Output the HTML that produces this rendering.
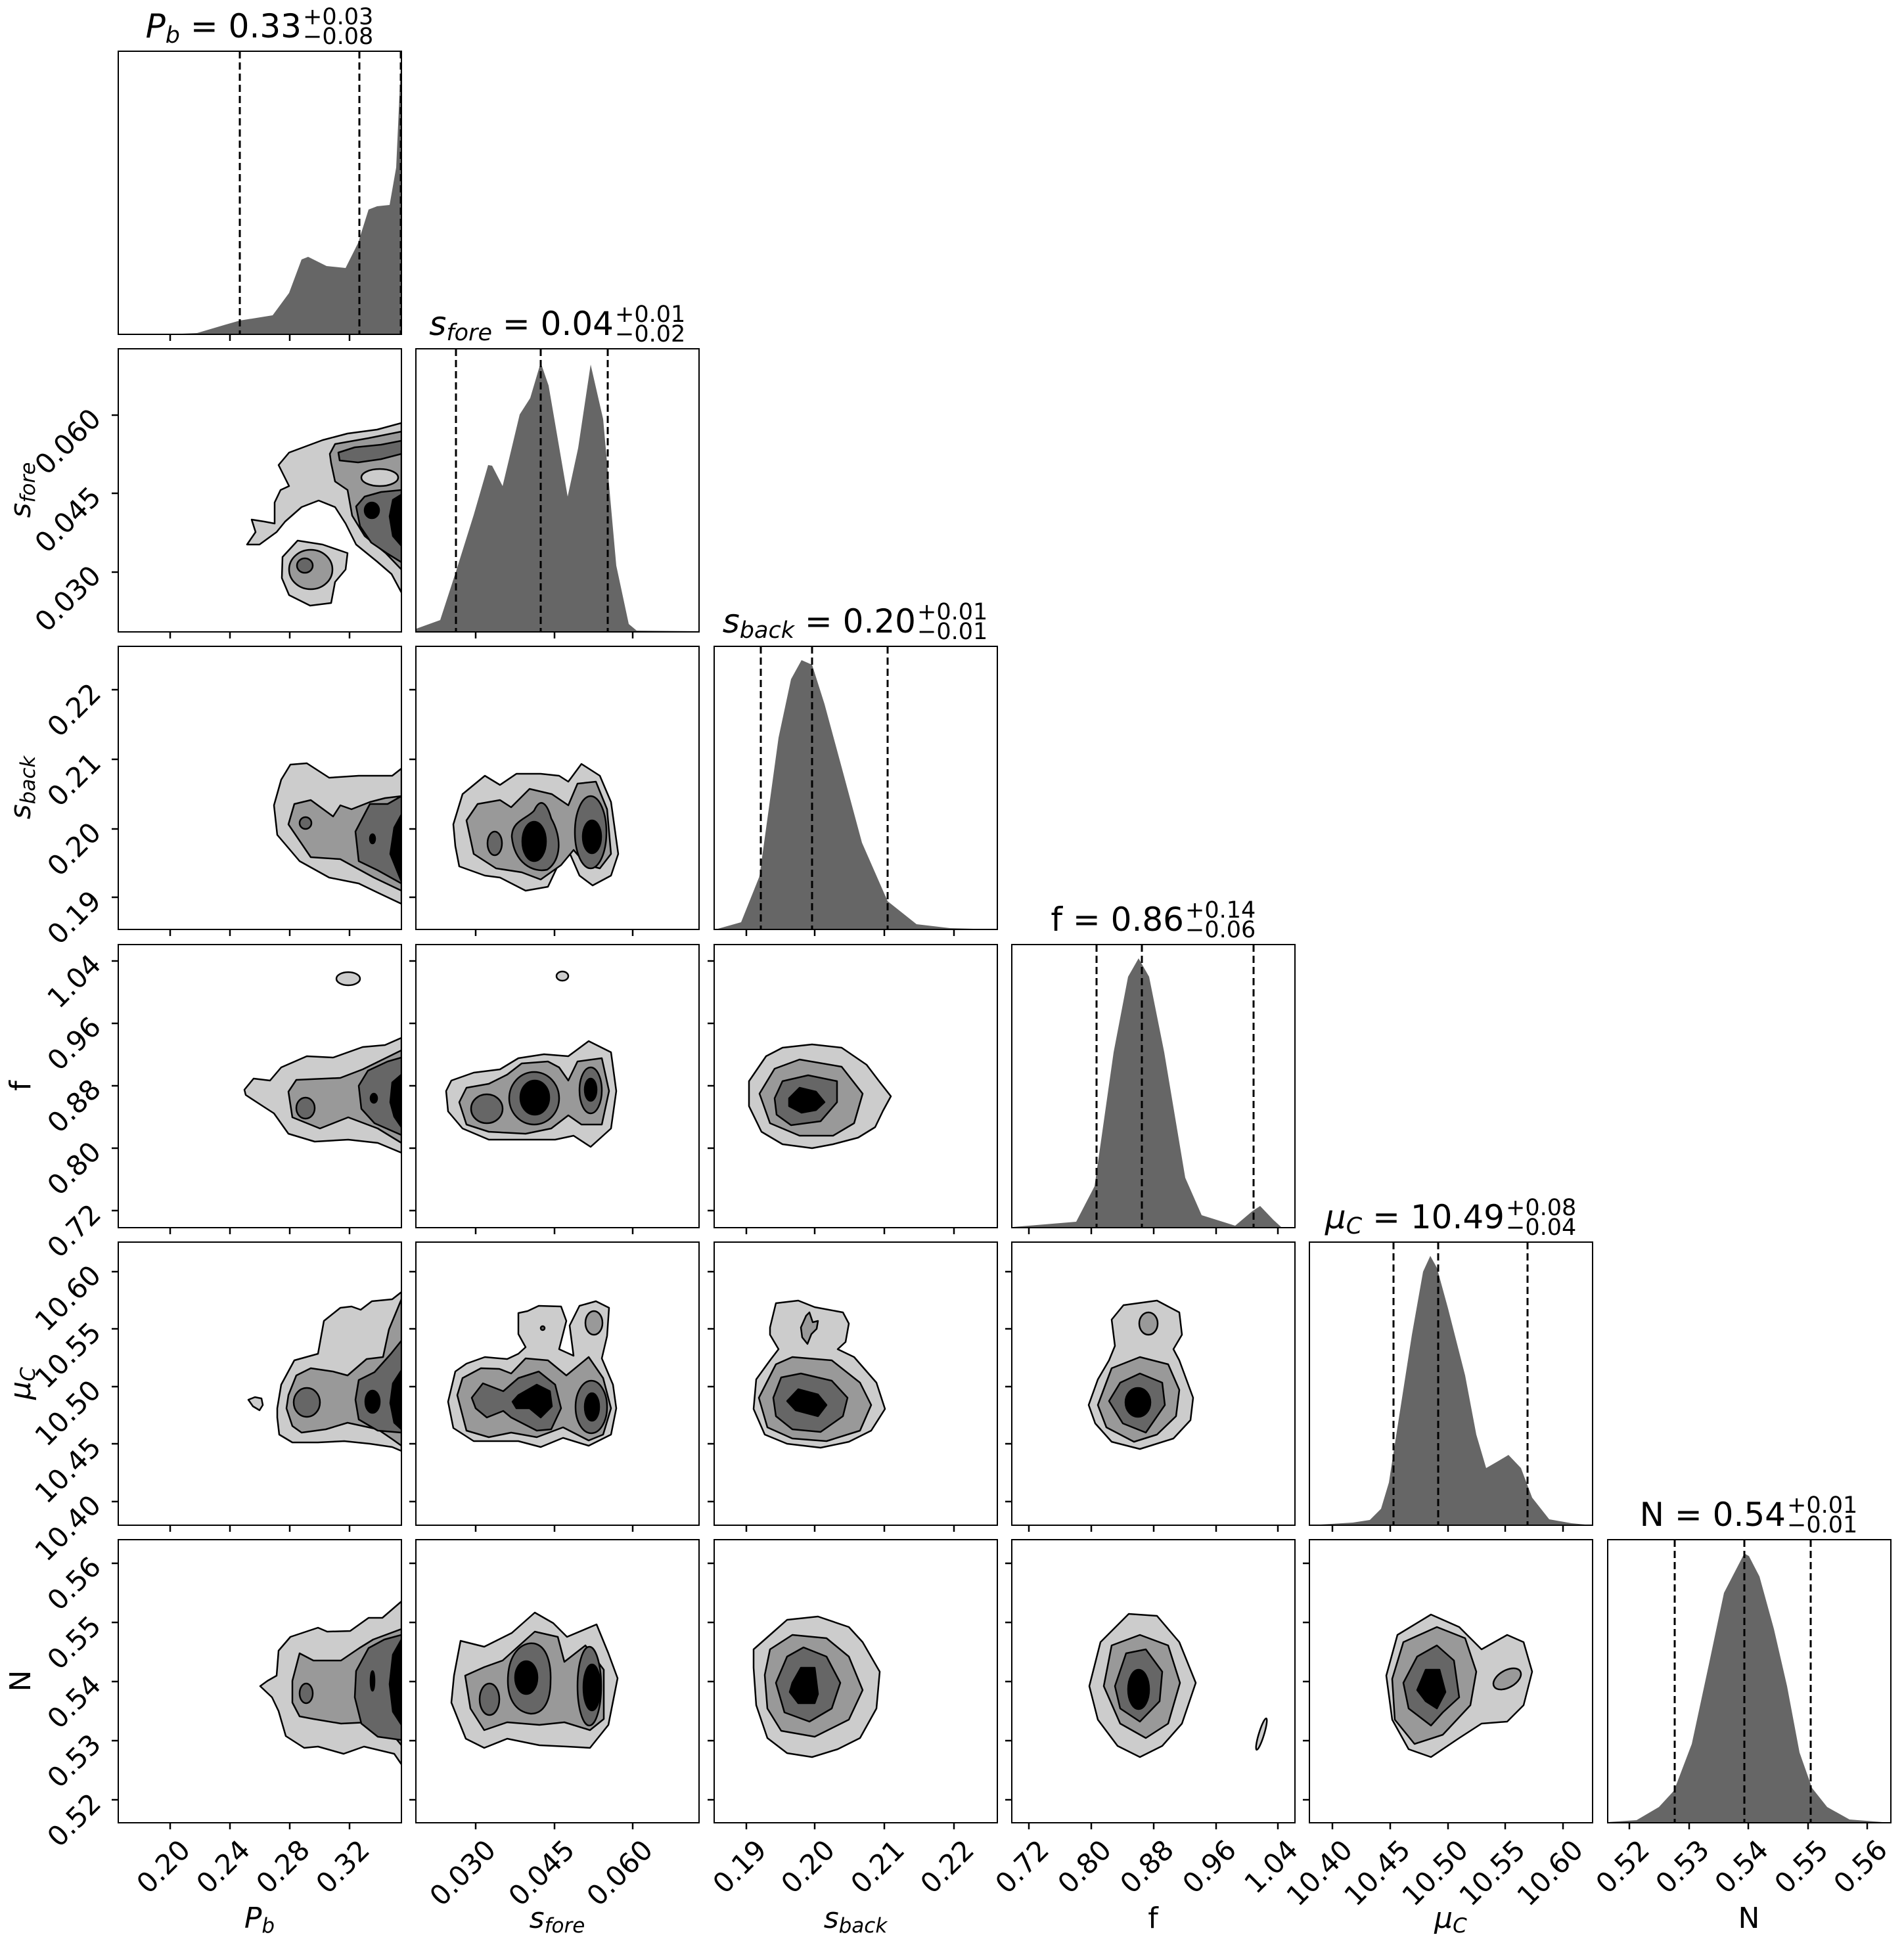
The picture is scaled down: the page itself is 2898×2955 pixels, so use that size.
<!DOCTYPE html>
<html><head><meta charset="utf-8"><style>html,body{margin:0;padding:0;background:#fff}svg{display:block}</style></head>
<body>
<svg xmlns="http://www.w3.org/2000/svg" width="2898" height="2955" viewBox="0 0 2898 2955" font-family="DejaVu Sans, Liberation Sans, sans-serif">
<defs><clipPath id="cp"><rect x="0" y="0" width="431" height="431"/></clipPath></defs>
<style>
.l{fill:#cccccc;stroke:#000;stroke-width:2.5;stroke-linejoin:round}
.m{fill:#999999;stroke:#000;stroke-width:2.5;stroke-linejoin:round}
.d{fill:#666666;stroke:#000;stroke-width:2.5;stroke-linejoin:round}
.k{fill:#000;stroke:#000;stroke-width:2.5;stroke-linejoin:round}
.h{fill:#666666;stroke:none}
.dash{stroke:#000;stroke-width:3;stroke-dasharray:11,6}
.fr{fill:none;stroke:#000;stroke-width:2}
.tk{stroke:#000;stroke-width:2.5}
.tl{font-size:42px}
.ax{font-size:44px}
</style>

<!-- ========== ROW 1 ========== -->
<g transform="translate(180,78)">
<g clip-path="url(#cp)">
<polygon class="h" points="75,431 120,429 164,416 185,410 235,402 260,368 279,317 289,313 317,327 346,330 365,292 381,241 394,236 413,234 423,177 431,2 431,431"/>
<line class="dash" x1="185" y1="0" x2="185" y2="431"/><line class="dash" x1="367" y1="0" x2="367" y2="431"/><line class="dash" x1="430" y1="0" x2="430" y2="431"/>
</g>
<rect class="fr" x="0" y="0" width="431" height="431"/>
<g class="tk"><line x1="79" y1="431" x2="79" y2="441"/><line x1="170" y1="431" x2="170" y2="441"/><line x1="261" y1="431" x2="261" y2="441"/><line x1="352" y1="431" x2="352" y2="441"/></g>
</g>
<text x="459" y="57" font-size="50" text-anchor="end"><tspan font-style="italic">P</tspan><tspan font-style="italic" font-size="35" dy="8">b</tspan><tspan dy="-8"> = 0.33</tspan></text>
<text x="461" y="37" font-size="35">+0.03</text><text x="461" y="67" font-size="35">−0.08</text>

<!-- ========== ROW 2 ========== -->
<g transform="translate(180,531)">
<g clip-path="url(#cp)">
<polygon class="l" points="431,113 394,123 349,129 311,139 260,158 244,177 260,209 247,215 238,234 238,266 222,263 203,260 209,279 196,298 215,298 241,279 254,263 279,241 305,231 330,241 346,266 362,298 394,324 416,343 431,371"/>
<polygon class="l" points="250,317 273,292 311,298 349,311 346,336 330,355 324,387 292,391 260,375 249,349"/>
<ellipse class="m" cx="293" cy="336" rx="33" ry="30"/>
<ellipse class="d" cx="284" cy="330" rx="12" ry="11"/>
<polygon class="m" points="431,126 381,136 330,145 322,160 324,174 330,202 349,215 356,254 375,285 407,311 431,336"/>
<polygon class="d" points="431,140 400,146 360,150 335,158 337,170 365,173 400,168 431,160"/>
<ellipse class="l" cx="398" cy="196" rx="28" ry="13"/>
<polygon class="d" points="431,215 400,218 375,225 362,240 368,270 385,295 410,312 431,325"/>
<polygon class="k" points="431,222 418,230 413,255 418,285 431,300"/>
<ellipse class="k" cx="386" cy="246" rx="11" ry="12"/>
</g>
<rect class="fr" x="0" y="0" width="431" height="431"/>
<g class="tk"><line x1="79" y1="431" x2="79" y2="441"/><line x1="170" y1="431" x2="170" y2="441"/><line x1="261" y1="431" x2="261" y2="441"/><line x1="352" y1="431" x2="352" y2="441"/>
<line x1="0" y1="101" x2="-10" y2="101"/><line x1="0" y1="220" x2="-10" y2="220"/><line x1="0" y1="340" x2="-10" y2="340"/></g>
<g class="tl" text-anchor="end">
<text transform="translate(-24,109) rotate(-45)">0.060</text>
<text transform="translate(-24,228) rotate(-45)">0.045</text>
<text transform="translate(-24,348) rotate(-45)">0.030</text>
</g>
</g>
<text class="ax" transform="translate(46,746) rotate(-90)" text-anchor="middle"><tspan font-style="italic">s</tspan><tspan font-style="italic" font-size="31" dy="7">fore</tspan></text>

<g transform="translate(633,531)">
<g clip-path="url(#cp)">
<polygon class="h" points="0,428 1,426 37,413 62,336 88,253 110,177 116,178 132,209 158,100 174,75 190,21 202,56 231,225 247,151 266,24 285,107 305,330 324,419 336,429 431,430 431,431 0,431"/>
<line class="dash" x1="61" y1="0" x2="61" y2="431"/><line class="dash" x1="190" y1="0" x2="190" y2="431"/><line class="dash" x1="292" y1="0" x2="292" y2="431"/>
</g>
<rect class="fr" x="0" y="0" width="431" height="431"/>
<g class="tk"><line x1="91" y1="431" x2="91" y2="441"/><line x1="211" y1="431" x2="211" y2="441"/><line x1="330" y1="431" x2="330" y2="441"/></g>
</g>
<text x="934" y="510" font-size="50" text-anchor="end"><tspan font-style="italic">s</tspan><tspan font-style="italic" font-size="35" dy="8">fore</tspan><tspan dy="-8"> = 0.04</tspan></text>
<text x="936" y="490" font-size="35">+0.01</text><text x="936" y="520" font-size="35">−0.02</text>

<!-- ========== ROW 3 ========== -->
<g transform="translate(180,984)">
<g clip-path="url(#cp)">
<polygon class="l" points="431,186 417,197 366,197 321,200 287,178 262,180 248,203 237,242 242,287 276,327 321,352 366,361 395,375 431,392"/>
<polygon class="m" points="431,228 406,231 383,237 355,248 338,242 327,259 293,234 268,240 259,271 293,321 338,324 389,352 431,372"/>
<polygon class="d" points="431,228 410,240 383,240 361,282 366,327 395,341 431,361"/>
<ellipse class="d" cx="285" cy="269" rx="9" ry="9"/>
<polygon class="k" points="431,256 420,276 414,316 431,358"/>
<ellipse class="k" cx="387" cy="293" rx="4" ry="7"/>
</g>
<rect class="fr" x="0" y="0" width="431" height="431"/>
<g class="tk"><line x1="79" y1="431" x2="79" y2="441"/><line x1="170" y1="431" x2="170" y2="441"/><line x1="261" y1="431" x2="261" y2="441"/><line x1="352" y1="431" x2="352" y2="441"/>
<line x1="0" y1="66" x2="-10" y2="66"/><line x1="0" y1="172" x2="-10" y2="172"/><line x1="0" y1="278" x2="-10" y2="278"/><line x1="0" y1="382" x2="-10" y2="382"/></g>
<g class="tl" text-anchor="end">
<text transform="translate(-24,74) rotate(-45)">0.22</text>
<text transform="translate(-24,180) rotate(-45)">0.21</text>
<text transform="translate(-24,286) rotate(-45)">0.20</text>
<text transform="translate(-24,390) rotate(-45)">0.19</text>
</g>
</g>
<text class="ax" transform="translate(46,1199) rotate(-90)" text-anchor="middle"><tspan font-style="italic">s</tspan><tspan font-style="italic" font-size="31" dy="7">back</tspan></text>

<g transform="translate(633,984)">
<g clip-path="url(#cp)">
<polygon class="l" points="57,271 71,225 105,197 128,211 153,194 190,194 218,197 232,206 252,179 280,197 297,237 308,316 297,349 269,364 249,349 232,310 218,330 201,366 167,372 128,352 105,349 66,335 60,304"/>
<polygon class="m" points="77,265 94,240 128,234 145,245 173,217 207,225 232,242 246,209 274,206 291,248 297,316 280,338 260,333 240,310 221,333 190,355 161,344 122,338 88,316"/>
<ellipse class="d" cx="120" cy="300" rx="11" ry="18"/>
<path class="d" d="M146,290 C146,265 170,262 180,250 C190,228 200,240 206,262 C222,290 222,325 200,340 C178,345 150,330 146,290 Z"/>
<ellipse class="d" cx="266" cy="283" rx="24" ry="55"/>
<ellipse class="k" cx="180" cy="297" rx="18" ry="30"/>
<ellipse class="k" cx="268" cy="290" rx="14" ry="25"/>
</g>
<rect class="fr" x="0" y="0" width="431" height="431"/>
<g class="tk"><line x1="91" y1="431" x2="91" y2="441"/><line x1="211" y1="431" x2="211" y2="441"/><line x1="330" y1="431" x2="330" y2="441"/>
<line x1="0" y1="66" x2="-10" y2="66"/><line x1="0" y1="172" x2="-10" y2="172"/><line x1="0" y1="278" x2="-10" y2="278"/><line x1="0" y1="382" x2="-10" y2="382"/></g>
</g>

<g transform="translate(1087,984)">
<g clip-path="url(#cp)">
<polygon class="h" points="2,431 41,420 69,350 98,139 117,50 133,21 149,28 168,88 194,184 225,299 264,388 308,423 359,429 430,431"/>
<line class="dash" x1="71" y1="0" x2="71" y2="431"/><line class="dash" x1="149" y1="0" x2="149" y2="431"/><line class="dash" x1="264" y1="0" x2="264" y2="431"/>
</g>
<rect class="fr" x="0" y="0" width="431" height="431"/>
<g class="tk"><line x1="49" y1="431" x2="49" y2="441"/><line x1="153" y1="431" x2="153" y2="441"/><line x1="259" y1="431" x2="259" y2="441"/><line x1="365" y1="431" x2="365" y2="441"/></g>
</g>
<text x="1394" y="963" font-size="50" text-anchor="end"><tspan font-style="italic">s</tspan><tspan font-style="italic" font-size="35" dy="8">back</tspan><tspan dy="-8"> = 0.20</tspan></text>
<text x="1396" y="943" font-size="35">+0.01</text><text x="1396" y="973" font-size="35">−0.01</text>

<!-- ========== ROW 4 ========== -->
<g transform="translate(180,1438)">
<g clip-path="url(#cp)">
<ellipse class="l" cx="350" cy="52" rx="18" ry="10"/>
<polygon class="l" points="192,221 206,204 231,207 248,187 287,170 327,172 372,156 406,153 431,142 431,317 395,302 350,297 299,300 259,288 237,257 220,246 194,229"/>
<polygon class="m" points="259,224 271,206 338,203 372,190 431,161 431,302 395,280 350,263 307,280 265,263"/>
<ellipse class="d" cx="285" cy="249" rx="14" ry="16"/>
<polygon class="d" points="431,172 410,178 380,192 366,215 370,250 390,272 431,290"/>
<polygon class="k" points="431,198 417,210 414,240 420,262 431,278"/>
<ellipse class="k" cx="389" cy="234" rx="5" ry="7"/>
</g>
<rect class="fr" x="0" y="0" width="431" height="431"/>
<g class="tk"><line x1="79" y1="431" x2="79" y2="441"/><line x1="170" y1="431" x2="170" y2="441"/><line x1="261" y1="431" x2="261" y2="441"/><line x1="352" y1="431" x2="352" y2="441"/>
<line x1="0" y1="25" x2="-10" y2="25"/><line x1="0" y1="120" x2="-10" y2="120"/><line x1="0" y1="215" x2="-10" y2="215"/><line x1="0" y1="310" x2="-10" y2="310"/><line x1="0" y1="405" x2="-10" y2="405"/></g>
<g class="tl" text-anchor="end">
<text transform="translate(-24,33) rotate(-45)">1.04</text>
<text transform="translate(-24,128) rotate(-45)">0.96</text>
<text transform="translate(-24,223) rotate(-45)">0.88</text>
<text transform="translate(-24,318) rotate(-45)">0.80</text>
<text transform="translate(-24,413) rotate(-45)">0.72</text>
</g>
</g>
<text class="ax" transform="translate(46,1653) rotate(-90)" text-anchor="middle">f</text>

<g transform="translate(633,1438)">
<g clip-path="url(#cp)">
<ellipse class="l" cx="223" cy="48" rx="9" ry="7"/>
<polygon class="l" points="46,223 54,207 88,195 128,190 156,173 195,167 232,170 263,147 297,164 305,223 297,280 266,308 240,291 212,297 167,297 111,297 71,280 49,254"/>
<polygon class="m" points="66,240 77,218 111,212 139,198 161,181 201,178 218,187 232,207 246,178 283,173 294,223 283,274 252,274 232,260 206,280 167,288 111,285 77,274"/>
<ellipse class="d" cx="108" cy="250" rx="24" ry="22"/>
<ellipse class="d" cx="180" cy="234" rx="38" ry="40"/>
<ellipse class="d" cx="266" cy="222" rx="17" ry="35"/>
<ellipse class="k" cx="181" cy="233" rx="22" ry="26"/>
<ellipse class="k" cx="266" cy="221" rx="9" ry="17"/>
</g>
<rect class="fr" x="0" y="0" width="431" height="431"/>
<g class="tk"><line x1="91" y1="431" x2="91" y2="441"/><line x1="211" y1="431" x2="211" y2="441"/><line x1="330" y1="431" x2="330" y2="441"/>
<line x1="0" y1="25" x2="-10" y2="25"/><line x1="0" y1="120" x2="-10" y2="120"/><line x1="0" y1="215" x2="-10" y2="215"/><line x1="0" y1="310" x2="-10" y2="310"/><line x1="0" y1="405" x2="-10" y2="405"/></g>
</g>

<g transform="translate(1087,1438)">
<g clip-path="url(#cp)">
<polygon class="l" points="53,208 79,170 104,157 149,152 194,157 232,183 251,208 269,231 257,253 245,278 219,294 181,304 149,310 104,304 72,285 53,246"/>
<polygon class="m" points="69,227 92,189 130,175 194,186 226,227 213,272 181,291 130,291 85,272"/>
<polygon class="d" points="92,234 104,208 143,199 187,208 187,240 162,269 117,275 95,259"/>
<polygon class="k" points="114,234 130,218 155,224 168,240 155,252 133,256 114,246"/>
</g>
<rect class="fr" x="0" y="0" width="431" height="431"/>
<g class="tk"><line x1="49" y1="431" x2="49" y2="441"/><line x1="153" y1="431" x2="153" y2="441"/><line x1="259" y1="431" x2="259" y2="441"/><line x1="365" y1="431" x2="365" y2="441"/>
<line x1="0" y1="25" x2="-10" y2="25"/><line x1="0" y1="120" x2="-10" y2="120"/><line x1="0" y1="215" x2="-10" y2="215"/><line x1="0" y1="310" x2="-10" y2="310"/><line x1="0" y1="405" x2="-10" y2="405"/></g>
</g>

<g transform="translate(1540,1438)">
<g clip-path="url(#cp)">
<polygon class="h" points="2,430 98,422 126,368 155,164 177,49 193,21 209,49 232,164 264,355 289,412 340,428 366,406 378,398 398,419 410,430 431,430 431,431 2,431"/>
<line class="dash" x1="129" y1="0" x2="129" y2="431"/><line class="dash" x1="198" y1="0" x2="198" y2="431"/><line class="dash" x1="368" y1="0" x2="368" y2="431"/>
</g>
<rect class="fr" x="0" y="0" width="431" height="431"/>
<g class="tk"><line x1="26" y1="431" x2="26" y2="441"/><line x1="121" y1="431" x2="121" y2="441"/><line x1="216" y1="431" x2="216" y2="441"/><line x1="311" y1="431" x2="311" y2="441"/><line x1="405" y1="431" x2="405" y2="441"/></g>
</g>
<text x="1802" y="1417" font-size="50" text-anchor="end">f = 0.86</text>
<text x="1804" y="1397" font-size="35">+0.14</text><text x="1804" y="1427" font-size="35">−0.06</text>

<!-- ========== ROW 5 ========== -->
<g transform="translate(180,1891)">
<g clip-path="url(#cp)">
<polygon class="l" points="198,240 208,236 218,238 220,248 215,256 205,250"/>
<polygon class="l" points="242,253 248,217 268,180 304,170 313,120 338,100 355,98 369,103 386,90 417,87 431,76 431,318 417,312 383,307 344,303 304,305 265,305 245,293 242,267"/>
<polygon class="m" points="259,233 271,203 293,192 327,197 349,203 378,178 403,175 412,133 431,87 431,310 417,300 395,285 349,275 316,285 279,290 265,280 256,253"/>
<ellipse class="d" cx="287" cy="244" rx="20" ry="22"/>
<polygon class="d" points="431,150 415,170 390,198 366,210 361,240 366,270 395,287 431,290"/>
<polygon class="k" points="431,195 418,215 414,245 420,275 431,285"/>
<ellipse class="k" cx="387" cy="243" rx="11" ry="17"/>
</g>
<rect class="fr" x="0" y="0" width="431" height="431"/>
<g class="tk"><line x1="79" y1="431" x2="79" y2="441"/><line x1="170" y1="431" x2="170" y2="441"/><line x1="261" y1="431" x2="261" y2="441"/><line x1="352" y1="431" x2="352" y2="441"/>
<line x1="0" y1="45" x2="-10" y2="45"/><line x1="0" y1="132" x2="-10" y2="132"/><line x1="0" y1="220" x2="-10" y2="220"/><line x1="0" y1="307" x2="-10" y2="307"/><line x1="0" y1="395" x2="-10" y2="395"/></g>
<g class="tl" text-anchor="end">
<text transform="translate(-24,53) rotate(-45)">10.60</text>
<text transform="translate(-24,140) rotate(-45)">10.55</text>
<text transform="translate(-24,228) rotate(-45)">10.50</text>
<text transform="translate(-24,315) rotate(-45)">10.45</text>
<text transform="translate(-24,403) rotate(-45)">10.40</text>
</g>
</g>
<text class="ax" transform="translate(46,2106) rotate(-90)" text-anchor="middle"><tspan font-style="italic">μ</tspan><tspan font-style="italic" font-size="31" dy="7">C</tspan></text>

<g transform="translate(633,1891)">
<g clip-path="url(#cp)">
<polygon class="l" points="49,243 60,197 77,185 105,175 139,178 156,170 167,160 156,140 156,108 170,105 187,97 221,98 229,120 218,163 240,173 234,127 249,97 274,90 294,100 291,143 283,177 300,217 305,253 297,293 263,310 224,298 190,312 156,303 122,303 88,303 57,283"/>
<ellipse class="m" cx="271" cy="123" rx="13" ry="18"/>
<ellipse class="d" cx="193" cy="131" rx="3" ry="3"/>
<polygon class="m" points="63,233 71,207 99,192 127,193 145,200 167,177 201,180 229,203 263,175 285,207 297,253 285,293 263,302 224,282 184,297 145,290 111,297 77,287"/>
<polygon class="d" points="85,237 102,215 133,227 156,207 187,197 212,217 221,253 206,285 184,287 145,267 133,257 108,267 91,253"/>
<ellipse class="d" cx="267" cy="251" rx="24" ry="40"/>
<polygon class="k" points="147,243 156,233 184,217 204,227 207,250 190,267 173,253 153,253"/>
<ellipse class="k" cx="268" cy="251" rx="11" ry="21"/>
</g>
<rect class="fr" x="0" y="0" width="431" height="431"/>
<g class="tk"><line x1="91" y1="431" x2="91" y2="441"/><line x1="211" y1="431" x2="211" y2="441"/><line x1="330" y1="431" x2="330" y2="441"/>
<line x1="0" y1="45" x2="-10" y2="45"/><line x1="0" y1="132" x2="-10" y2="132"/><line x1="0" y1="220" x2="-10" y2="220"/><line x1="0" y1="307" x2="-10" y2="307"/><line x1="0" y1="395" x2="-10" y2="395"/></g>
</g>

<g transform="translate(1087,1891)">
<g clip-path="url(#cp)">
<polygon class="l" points="85,130 94,93 128,89 153,99 196,107 205,124 200,152 188,163 213,175 247,214 260,254 239,287 205,304 162,313 111,307 77,293 60,254 64,209 85,180 98,163 85,141"/>
<polygon class="m" points="132,130 140,112 145,107 150,122 158,120 156,132 148,140 142,155 134,145"/>
<polygon class="m" points="68,237 94,186 119,175 179,180 222,214 239,248 222,287 171,303 119,299 81,282"/>
<polygon class="d" points="90,237 102,206 132,200 179,211 203,237 196,265 162,289 119,285 94,265"/>
<polygon class="k" points="111,242 128,224 158,232 171,248 158,265 124,256"/>
</g>
<rect class="fr" x="0" y="0" width="431" height="431"/>
<g class="tk"><line x1="49" y1="431" x2="49" y2="441"/><line x1="153" y1="431" x2="153" y2="441"/><line x1="259" y1="431" x2="259" y2="441"/><line x1="365" y1="431" x2="365" y2="441"/>
<line x1="0" y1="45" x2="-10" y2="45"/><line x1="0" y1="132" x2="-10" y2="132"/><line x1="0" y1="220" x2="-10" y2="220"/><line x1="0" y1="307" x2="-10" y2="307"/><line x1="0" y1="395" x2="-10" y2="395"/></g>
</g>

<g transform="translate(1540,1891)">
<g clip-path="url(#cp)">
<polygon class="l" points="152,118 170,96 221,89 255,107 259,141 246,163 255,180 276,237 272,271 246,299 195,315 152,304 127,276 117,248 131,209 148,180 157,158"/>
<ellipse class="m" cx="208" cy="124" rx="14" ry="17"/>
<polygon class="m" points="131,248 152,192 195,175 238,186 255,225 250,265 221,293 186,304 144,282"/>
<polygon class="d" points="148,242 165,214 195,200 229,214 233,248 204,290 169,276"/>
<ellipse class="k" cx="192" cy="244" rx="19" ry="22"/>
</g>
<rect class="fr" x="0" y="0" width="431" height="431"/>
<g class="tk"><line x1="26" y1="431" x2="26" y2="441"/><line x1="121" y1="431" x2="121" y2="441"/><line x1="216" y1="431" x2="216" y2="441"/><line x1="311" y1="431" x2="311" y2="441"/><line x1="405" y1="431" x2="405" y2="441"/>
<line x1="0" y1="45" x2="-10" y2="45"/><line x1="0" y1="132" x2="-10" y2="132"/><line x1="0" y1="220" x2="-10" y2="220"/><line x1="0" y1="307" x2="-10" y2="307"/><line x1="0" y1="395" x2="-10" y2="395"/></g>
</g>

<g transform="translate(1993,1891)">
<g clip-path="url(#cp)">
<polygon class="h" points="0,431 66,427 92,423 109,406 121,366 134,282 156,141 173,45 184,21 194,39 211,101 237,203 254,293 269,344 288,333 303,324 322,344 339,389 365,422 399,428 431,431"/>
<line class="dash" x1="128" y1="0" x2="128" y2="431"/><line class="dash" x1="196" y1="0" x2="196" y2="431"/><line class="dash" x1="332" y1="0" x2="332" y2="431"/>
</g>
<rect class="fr" x="0" y="0" width="431" height="431"/>
<g class="tk"><line x1="35" y1="431" x2="35" y2="441"/><line x1="123" y1="431" x2="123" y2="441"/><line x1="211" y1="431" x2="211" y2="441"/><line x1="298" y1="431" x2="298" y2="441"/><line x1="386" y1="431" x2="386" y2="441"/></g>
</g>
<text x="2290" y="1870" font-size="50" text-anchor="end"><tspan font-style="italic">μ</tspan><tspan font-style="italic" font-size="35" dy="8">C</tspan><tspan dy="-8"> = 10.49</tspan></text>
<text x="2292" y="1850" font-size="35">+0.08</text><text x="2292" y="1880" font-size="35">−0.04</text>

<!-- ========== ROW 6 ========== -->
<g transform="translate(180,2344)">
<g clip-path="url(#cp)">
<polygon class="l" points="216,223 227,215 241,207 244,169 262,148 304,134 318,140 353,139 381,119 402,119 431,94 431,342 420,326 374,315 343,326 304,315 283,317 255,299 244,261 234,240"/>
<polygon class="m" points="265,215 276,173 297,184 339,184 367,165 388,152 431,136 431,313 409,286 381,278 339,280 297,273 276,269 265,248"/>
<ellipse class="d" cx="286" cy="234" rx="10" ry="15"/>
<polygon class="d" points="431,145 405,152 381,165 362,200 360,240 370,280 395,300 431,305"/>
<polygon class="k" points="431,152 418,175 413,220 418,262 431,282"/>
<ellipse class="k" cx="387" cy="215" rx="3" ry="15"/>
</g>
<rect class="fr" x="0" y="0" width="431" height="431"/>
<g class="tk"><line x1="79" y1="431" x2="79" y2="441"/><line x1="170" y1="431" x2="170" y2="441"/><line x1="261" y1="431" x2="261" y2="441"/><line x1="352" y1="431" x2="352" y2="441"/>
<line x1="0" y1="36" x2="-10" y2="36"/><line x1="0" y1="126" x2="-10" y2="126"/><line x1="0" y1="216" x2="-10" y2="216"/><line x1="0" y1="306" x2="-10" y2="306"/><line x1="0" y1="396" x2="-10" y2="396"/></g>
<g class="tl" text-anchor="end">
<text transform="translate(-24,44) rotate(-45)">0.56</text>
<text transform="translate(-24,134) rotate(-45)">0.55</text>
<text transform="translate(-24,224) rotate(-45)">0.54</text>
<text transform="translate(-24,314) rotate(-45)">0.53</text>
<text transform="translate(-24,404) rotate(-45)">0.52</text>
<text transform="translate(112,475) rotate(-45)">0.20</text>
<text transform="translate(203,475) rotate(-45)">0.24</text>
<text transform="translate(294,475) rotate(-45)">0.28</text>
<text transform="translate(385,475) rotate(-45)">0.32</text>
</g>
</g>
<text class="ax" transform="translate(46,2559) rotate(-90)" text-anchor="middle">N</text>

<g transform="translate(633,2344)">
<g clip-path="url(#cp)">
<polygon class="l" points="58,207 68,154 104,163 146,142 181,111 209,127 230,148 275,129 293,173 307,211 293,282 265,317 230,315 188,313 139,303 104,317 76,303 54,248"/>
<polygon class="m" points="75,207 104,194 132,184 181,140 216,148 226,186 258,161 286,198 286,273 265,290 226,278 188,282 139,278 104,290 83,257"/>
<ellipse class="d" cx="112" cy="243" rx="15" ry="24"/>
<path class="d" d="M140,215 C140,175 160,155 180,158 C200,162 206,190 205,215 C205,245 195,265 175,265 C150,262 140,240 140,215 Z"/>
<ellipse class="d" cx="264" cy="223" rx="18" ry="60"/>
<ellipse class="k" cx="168" cy="210" rx="17" ry="25"/>
<ellipse class="k" cx="268" cy="225" rx="13" ry="35"/>
</g>
<rect class="fr" x="0" y="0" width="431" height="431"/>
<g class="tk"><line x1="91" y1="431" x2="91" y2="441"/><line x1="211" y1="431" x2="211" y2="441"/><line x1="330" y1="431" x2="330" y2="441"/>
<line x1="0" y1="36" x2="-10" y2="36"/><line x1="0" y1="126" x2="-10" y2="126"/><line x1="0" y1="216" x2="-10" y2="216"/><line x1="0" y1="306" x2="-10" y2="306"/><line x1="0" y1="396" x2="-10" y2="396"/></g>
<g class="tl" text-anchor="end">
<text transform="translate(124,475) rotate(-45)">0.030</text>
<text transform="translate(244,475) rotate(-45)">0.045</text>
<text transform="translate(363,475) rotate(-45)">0.060</text>
</g>
</g>

<g transform="translate(1087,2344)">
<g clip-path="url(#cp)">
<polygon class="l" points="60,167 85,145 111,122 158,117 205,133 226,156 252,201 247,257 222,302 188,319 149,331 111,325 81,302 64,252 60,195"/>
<polygon class="m" points="77,206 85,167 119,145 171,150 205,178 226,229 205,274 153,300 102,291 81,257"/>
<polygon class="d" points="94,218 111,178 136,164 171,178 192,218 179,257 145,277 107,263"/>
<polygon class="k" points="119,218 132,195 153,195 158,235 153,249 128,249 115,232"/>
</g>
<rect class="fr" x="0" y="0" width="431" height="431"/>
<g class="tk"><line x1="49" y1="431" x2="49" y2="441"/><line x1="153" y1="431" x2="153" y2="441"/><line x1="259" y1="431" x2="259" y2="441"/><line x1="365" y1="431" x2="365" y2="441"/>
<line x1="0" y1="36" x2="-10" y2="36"/><line x1="0" y1="126" x2="-10" y2="126"/><line x1="0" y1="216" x2="-10" y2="216"/><line x1="0" y1="306" x2="-10" y2="306"/><line x1="0" y1="396" x2="-10" y2="396"/></g>
<g class="tl" text-anchor="end">
<text transform="translate(82,475) rotate(-45)">0.19</text>
<text transform="translate(186,475) rotate(-45)">0.20</text>
<text transform="translate(292,475) rotate(-45)">0.21</text>
<text transform="translate(398,475) rotate(-45)">0.22</text>
</g>
</g>

<g transform="translate(1540,2344)">
<g clip-path="url(#cp)">
<polygon class="l" points="118,223 135,156 178,113 221,116 255,156 280,218 259,280 229,314 195,331 161,314 131,274"/>
<polygon class="m" points="140,223 152,161 195,145 238,161 256,218 238,280 204,302 165,280"/>
<polygon class="d" points="157,223 174,173 204,167 229,201 225,246 195,277 165,257"/>
<ellipse class="k" cx="193" cy="228" rx="16" ry="30"/>
<ellipse class="l" cx="380" cy="296" rx="4" ry="25" transform="rotate(17 380 296)"/>
</g>
<rect class="fr" x="0" y="0" width="431" height="431"/>
<g class="tk"><line x1="26" y1="431" x2="26" y2="441"/><line x1="121" y1="431" x2="121" y2="441"/><line x1="216" y1="431" x2="216" y2="441"/><line x1="311" y1="431" x2="311" y2="441"/><line x1="405" y1="431" x2="405" y2="441"/>
<line x1="0" y1="36" x2="-10" y2="36"/><line x1="0" y1="126" x2="-10" y2="126"/><line x1="0" y1="216" x2="-10" y2="216"/><line x1="0" y1="306" x2="-10" y2="306"/><line x1="0" y1="396" x2="-10" y2="396"/></g>
<g class="tl" text-anchor="end">
<text transform="translate(59,475) rotate(-45)">0.72</text>
<text transform="translate(154,475) rotate(-45)">0.80</text>
<text transform="translate(249,475) rotate(-45)">0.88</text>
<text transform="translate(344,475) rotate(-45)">0.96</text>
<text transform="translate(438,475) rotate(-45)">1.04</text>
</g>
</g>

<g transform="translate(1993,2344)">
<g clip-path="url(#cp)">
<polygon class="l" points="117,207 134,145 185,114 228,133 262,167 301,145 326,156 339,201 326,252 301,277 262,280 228,302 185,331 151,319 126,274"/>
<ellipse class="m" cx="301" cy="212" rx="23" ry="13" transform="rotate(-30 301 212)"/>
<polygon class="m" points="126,212 143,156 194,133 237,150 254,201 245,252 203,297 160,311 130,274"/>
<polygon class="d" points="143,218 164,178 194,161 220,184 228,240 203,263 185,283 151,257"/>
<polygon class="k" points="164,229 177,198 198,198 207,232 194,257 177,246"/>
</g>
<rect class="fr" x="0" y="0" width="431" height="431"/>
<g class="tk"><line x1="35" y1="431" x2="35" y2="441"/><line x1="123" y1="431" x2="123" y2="441"/><line x1="211" y1="431" x2="211" y2="441"/><line x1="298" y1="431" x2="298" y2="441"/><line x1="386" y1="431" x2="386" y2="441"/>
<line x1="0" y1="36" x2="-10" y2="36"/><line x1="0" y1="126" x2="-10" y2="126"/><line x1="0" y1="216" x2="-10" y2="216"/><line x1="0" y1="306" x2="-10" y2="306"/><line x1="0" y1="396" x2="-10" y2="396"/></g>
<g class="tl" text-anchor="end">
<text transform="translate(68,475) rotate(-45)">10.40</text>
<text transform="translate(156,475) rotate(-45)">10.45</text>
<text transform="translate(244,475) rotate(-45)">10.50</text>
<text transform="translate(331,475) rotate(-45)">10.55</text>
<text transform="translate(419,475) rotate(-45)">10.60</text>
</g>
</g>

<g transform="translate(2447,2344)">
<g clip-path="url(#cp)">
<polygon class="h" points="0,430 44,427 78,407 101,382 128,311 154,190 177,81 208,21 215,25 231,56 253,136 273,223 292,324 311,378 334,407 368,426 431,431 0,431"/>
<line class="dash" x1="102" y1="0" x2="102" y2="431"/><line class="dash" x1="208" y1="0" x2="208" y2="431"/><line class="dash" x1="309" y1="0" x2="309" y2="431"/>
</g>
<rect class="fr" x="0" y="0" width="431" height="431"/>
<g class="tk"><line x1="33" y1="431" x2="33" y2="441"/><line x1="124" y1="431" x2="124" y2="441"/><line x1="214" y1="431" x2="214" y2="441"/><line x1="305" y1="431" x2="305" y2="441"/><line x1="395" y1="431" x2="395" y2="441"/></g>
<g class="tl" text-anchor="end">
<text transform="translate(66,475) rotate(-45)">0.52</text>
<text transform="translate(157,475) rotate(-45)">0.53</text>
<text transform="translate(247,475) rotate(-45)">0.54</text>
<text transform="translate(338,475) rotate(-45)">0.55</text>
<text transform="translate(428,475) rotate(-45)">0.56</text>
</g>
</g>
<text x="2718" y="2323" font-size="50" text-anchor="end">N = 0.54</text>
<text x="2720" y="2303" font-size="35">+0.01</text><text x="2720" y="2333" font-size="35">−0.01</text>

<!-- x axis labels -->
<g class="ax" text-anchor="middle">
<text x="395" y="2935"><tspan font-style="italic">P</tspan><tspan font-style="italic" font-size="31" dy="7">b</tspan></text>
<text x="848" y="2935"><tspan font-style="italic">s</tspan><tspan font-style="italic" font-size="31" dy="7">fore</tspan></text>
<text x="1302" y="2935"><tspan font-style="italic">s</tspan><tspan font-style="italic" font-size="31" dy="7">back</tspan></text>
<text x="1755" y="2935">f</text>
<text x="2208" y="2935"><tspan font-style="italic">μ</tspan><tspan font-style="italic" font-size="31" dy="7">C</tspan></text>
<text x="2662" y="2935">N</text>
</g>
</svg>
</body></html>
